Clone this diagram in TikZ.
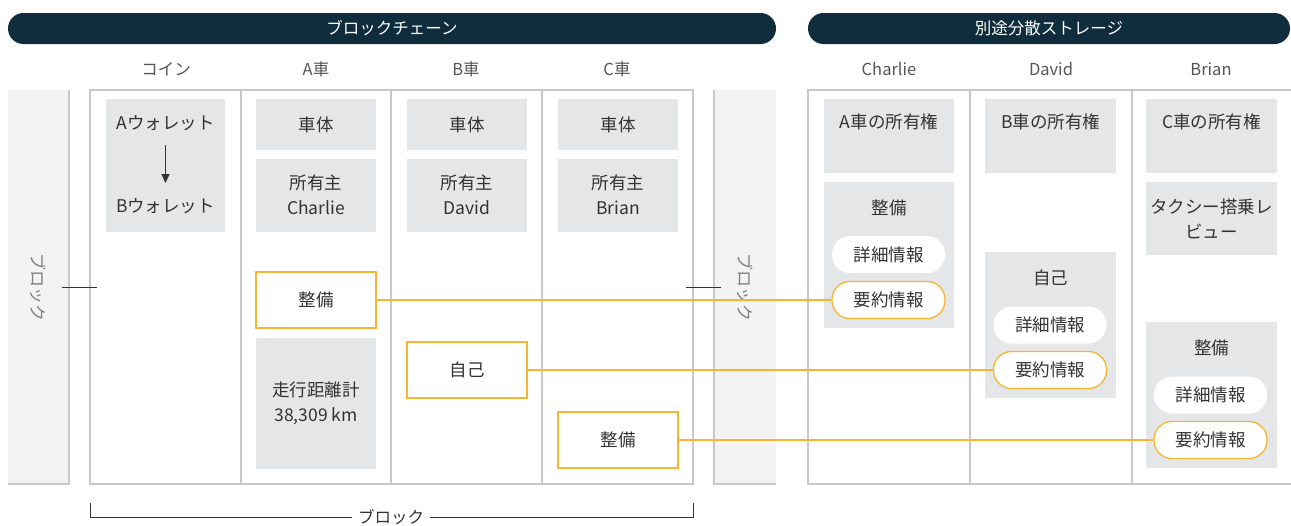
\documentclass[tikz,border=0pt]{standalone}
\usepackage{fontspec}
\setmainfont{Noto Sans CJK JP}
\usetikzlibrary{arrows.meta}
\definecolor{navy}{HTML}{0F2D3C}
\definecolor{boxgray}{HTML}{E5E6E8}
\definecolor{blockgray}{HTML}{F3F3F3}
\definecolor{rule}{HTML}{C8C8CC}
\definecolor{ylw}{HTML}{F5B731}
\definecolor{txt}{HTML}{333333}
\definecolor{lbl}{HTML}{555555}
\tikzset{
  main/.style={font=\fontsize{17.5}{25}\selectfont, text=txt, align=center},
  gbox/.style={main, fill=boxgray, draw=none, inner sep=0pt},
  ybox/.style={main, fill=white, draw=ylw, line width=1.3pt, inner sep=0pt, minimum width=120pt, minimum height=56pt},
  pill/.style={main, fill=white, rounded corners=18pt, inner sep=0pt, minimum width=113pt, minimum height=37pt},
  ypill/.style={pill, draw=ylw, line width=1.3pt},
  collab/.style={font=\fontsize{16.5}{20}\selectfont, text=lbl},
  header/.style={fill=navy, text=white, rounded corners=15.5pt, minimum height=31pt, inner sep=0pt, font=\fontsize{16.5}{20}\selectfont},
  tline/.style={draw=rule, line width=1.5pt},
  link/.style={draw=ylw, line width=1.3pt},
  markline/.style={draw=txt, line width=1pt},
  blocktxt/.style={font=\fontsize{17}{20}\selectfont, text=gray, rotate=-90},
}
\begin{document}
\begin{tikzpicture}[x=1pt,y=-1pt]
\useasboundingbox (0,0) rectangle (1291,525);
% headers
\node[header, minimum width=768pt] (hbc) at (392,28.5) {ブロックチェーン};
\node[header, minimum width=482pt] (hst) at (1049,28.5) {別途分散ストレージ};
% column labels
\node[collab] (lcoin) at (166,69) {コイン};
\node[collab] (la) at (316,69) {A車};
\node[collab] (lb) at (466,69) {B車};
\node[collab] (lc) at (617,69) {C車};
\node[collab] (lch) at (889,69) {Charlie};
\node[collab] (lda) at (1051,69) {David};
\node[collab] (lbr) at (1211,69) {Brian};
% side blocks
\fill[blockgray] (8,90) rectangle (69,484);
\draw[tline] (69,90) -- (69,484) -- (8,484);
\fill[blockgray] (714,90) rectangle (776,484);
\draw[tline] (714,90) -- (714,484) -- (776,484);
\node[blocktxt] (bl) at (38,287) {ブロック};
\node[blocktxt] (br) at (745,287) {ブロック};
% blockchain table
\draw[tline] (90,90) rectangle (693,484);
\draw[tline] (241,90) -- (241,484);
\draw[tline] (391,90) -- (391,484);
\draw[tline] (542,90) -- (542,484);
% storage table
\draw[tline] (1291,90) -- (808,90) -- (808,484) -- (1291,484);
\draw[tline] (970,90) -- (970,484);
\draw[tline] (1132,90) -- (1132,484);
% block markers
\coordinate (m1a) at (62,287); \coordinate (m1b) at (97,287);
\coordinate (m2a) at (686,287); \coordinate (m2b) at (721,287);
\draw[markline] (m1a) -- (m1b);
\draw[markline] (m2a) -- (m2b);
% coin
\node[gbox, minimum width=119pt, minimum height=133pt] (coin) at (165.5,165.5) {};
\node[main] (wa) at (165.5,123) {Aウォレット};
\node[main] (wb) at (165.5,206) {Bウォレット};
\coordinate (ar1) at (165.5,145); \coordinate (ar2) at (165.5,183);
\draw[line width=1.2pt, txt, -{Triangle[length=9pt,width=8pt]}] (ar1) -- (ar2);
% cars
\foreach \cx/\nm/\ow in {316/a/Charlie, 467/b/David, 618/c/Brian}{
  \node[gbox, minimum width=120pt, minimum height=51pt] (body\nm) at (\cx,124.5) {車体};
  \node[gbox, minimum width=120pt, minimum height=73pt, text depth=1pt] (own\nm) at (\cx,195.5) {所有主\\\ow};
}
\node[ybox] (seiA) at (316,300) {整備};
\node[gbox, minimum width=120pt, minimum height=131pt] (odo) at (316,403.5) {走行距離計\\38,309 km};
\node[ybox] (jikoB) at (467,370) {自己};
\node[ybox] (seiC) at (618,440) {整備};
% storage: Charlie
\node[gbox, minimum width=130pt, minimum height=74pt] (stA) at (889,136) {};
\node[main] (stAt) at (889,122) {A車の所有権};
\node[gbox, minimum width=130pt, minimum height=146pt] (chS) at (889,255) {};
\node[main] (chSt) at (889,208) {整備};
\node[pill] (chD) at (888.5,254.5) {詳細情報};
\node[ypill] (chY) at (888.5,300) {要約情報};
% David
\node[gbox, minimum width=131pt, minimum height=74pt] (stB) at (1050.5,136) {};
\node[main] (stBt) at (1050.5,122) {B車の所有権};
\node[gbox, minimum width=131pt, minimum height=146pt] (daS) at (1050.5,325) {};
\node[main] (daSt) at (1050.5,278) {自己};
\node[pill] (daD) at (1050,325) {詳細情報};
\node[ypill] (daY) at (1050,370) {要約情報};
% Brian
\node[gbox, minimum width=131pt, minimum height=74pt] (stC) at (1211.5,136) {};
\node[main] (stCt) at (1211.5,122) {C車の所有権};
\node[gbox, minimum width=131pt, minimum height=73pt] (taxi) at (1211.5,218.5) {タクシー搭乗レ\\ビュー};
\node[gbox, minimum width=131pt, minimum height=146pt] (brS) at (1211.5,395) {};
\node[main] (brSt) at (1211.5,348) {整備};
\node[pill] (brD) at (1210.5,395) {詳細情報};
\node[ypill] (brY) at (1210.5,440) {要約情報};
% links
\draw[link] (seiA.east) -- (chY.west);
\draw[link] (jikoB.east) -- (daY.west);
\draw[link] (seiC.east) -- (brY.west);
% bracket
\node[font=\fontsize{16.5}{20}\selectfont, text=txt, fill=white, inner sep=6pt] (bt) at (391,517) {ブロック};
\coordinate (bk1) at (90,503); \coordinate (bk2) at (90,517);
\coordinate (bk3) at (693,517); \coordinate (bk4) at (693,503);
\draw[markline] (bk1) -- (bk2) -- (bt.west);
\draw[markline] (bt.east) -- (bk3) -- (bk4);
\end{tikzpicture}
\end{document}
